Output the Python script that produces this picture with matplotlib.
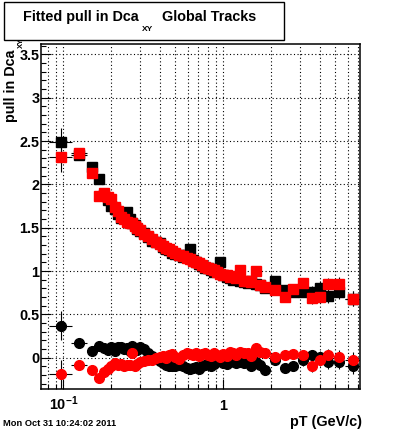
import matplotlib
matplotlib.use('Agg')
import matplotlib.pyplot as plt
from matplotlib.ticker import FixedLocator, FixedFormatter, NullFormatter
from matplotlib.patches import Rectangle

plt.rcParams['font.family'] = ['Liberation Sans', 'DejaVu Sans']
plt.rcParams['font.weight'] = 'bold'
plt.rcParams['mathtext.fontset'] = 'custom'
plt.rcParams['mathtext.rm'] = 'Liberation Sans:bold'
plt.rcParams['mathtext.bf'] = 'Liberation Sans:bold'
plt.rcParams['mathtext.it'] = 'Liberation Sans:bold'

# ---- data ----
pt = [0.097, 0.126, 0.152, 0.168, 0.18, 0.19, 0.20, 0.21, 0.22, 0.23,
      0.24, 0.25, 0.26, 0.27, 0.28, 0.29, 0.30, 0.32, 0.34, 0.36,
      0.38, 0.40, 0.42, 0.44, 0.46, 0.48, 0.50, 0.53, 0.56, 0.59,
      0.62, 0.65, 0.68, 0.71, 0.74, 0.77, 0.80, 0.84, 0.88, 0.92,
      0.96, 1.00, 1.05, 1.10, 1.15, 1.20, 1.27, 1.35, 1.43, 1.50,
      1.60, 1.70, 1.82, 2.10, 2.43, 2.74, 3.16, 3.57, 4.02, 4.53,
      5.29, 6.49]

pt_err = [0.016, 0.0145, 0.008, 0.006, 0.005, 0.005, 0.005, 0.005, 0.005, 0.005,
          0.005, 0.005, 0.005, 0.005, 0.005, 0.005, 0.01, 0.01, 0.01, 0.01,
          0.01, 0.01, 0.01, 0.01, 0.01, 0.01, 0.015, 0.015, 0.015, 0.015,
          0.015, 0.015, 0.015, 0.015, 0.015, 0.015, 0.02, 0.02, 0.02, 0.02,
          0.02, 0.025, 0.025, 0.025, 0.025, 0.03, 0.035, 0.04, 0.035, 0.04,
          0.05, 0.05, 0.06, 0.14, 0.15, 0.16, 0.2, 0.2, 0.22, 0.25,
          0.38, 0.7]

black_mean = [2.49, 2.34, 2.20, 2.06, 1.88, 1.82, 1.75, 1.72, 1.66, 1.61,
              1.62, 1.68, 1.60, 1.56, 1.53, 1.49, 1.46, 1.44, 1.39, 1.35,
              1.33, 1.32, 1.28, 1.25, 1.24, 1.21, 1.20, 1.18, 1.16, 1.19,
              1.25, 1.13, 1.10, 1.08, 1.06, 1.04, 1.03, 1.01, 0.99, 1.02,
              1.11, 0.95, 0.93, 0.92, 0.90, 0.91, 0.88, 0.87, 0.86, 0.88,
              0.85, 0.84, 0.80, 0.89, 0.78, 0.76, 0.76, 0.76, 0.81, 0.71,
              0.76, 0.68]

red_mean = [2.31, 2.36, 2.13, 1.87, 1.90, 1.85, 1.83, 1.74, 1.69, 1.62,
            1.60, 1.57, 1.56, 1.55, 1.52, 1.50, 1.47, 1.43, 1.40, 1.37,
            1.34, 1.31, 1.29, 1.27, 1.25, 1.23, 1.21, 1.19, 1.17, 1.15,
            1.14, 1.12, 1.10, 1.09, 1.07, 1.05, 1.04, 1.02, 1.01, 0.99,
            0.97, 0.96, 0.95, 0.93, 0.94, 0.92, 1.01, 0.89, 0.88, 0.87,
            1.00, 0.84, 0.82, 0.78, 0.70, 0.79, 0.86, 0.685, 0.70, 0.85,
            0.85, 0.68]

black_off = [0.37, 0.166, 0.08, 0.135, 0.11, 0.09, 0.12, 0.08, 0.13, 0.12,
             0.10, 0.11, 0.08, 0.14, 0.10, 0.09, 0.12, 0.10, 0.05, 0.02,
             0.00, -0.04, -0.06, -0.08, -0.09, -0.10, -0.09, -0.08, -0.10, -0.12,
             -0.13, -0.12, -0.11, -0.13, -0.10, -0.08, -0.06, -0.09, -0.07, -0.04,
             -0.03, -0.06, -0.07, -0.05, -0.04, -0.06, -0.05, -0.06, -0.05, -0.09,
             -0.05, -0.08, -0.14, -0.03, -0.12, -0.10, -0.03, 0.03, 0.01, -0.05,
             -0.05, -0.10]

red_off = [-0.19, -0.084, -0.14, -0.23, -0.16, -0.13, -0.10, -0.065, -0.08, -0.07,
           -0.09, -0.08, -0.08, 0.05, -0.09, -0.07, -0.05, -0.04, -0.03, -0.02,
           0.00, 0.01, 0.02, 0.00, 0.03, 0.04, 0.01, -0.01, 0.03, 0.06,
           0.04, 0.03, 0.05, 0.02, 0.04, 0.06, 0.03, 0.02, 0.05, 0.03,
           0.01, 0.04, 0.02, 0.07, 0.05, 0.03, 0.07, 0.05, 0.06, 0.02,
           0.11, 0.07, 0.05, 0.01, 0.03, 0.04, 0.03, -0.10, -0.02, 0.03,
           0.01, -0.02]

val_err = [0.165, 0.035, 0.03, 0.03, 0.025, 0.025, 0.02, 0.02, 0.02, 0.02,
           0.02, 0.02, 0.02, 0.02, 0.02, 0.02, 0.02, 0.02, 0.02, 0.02,
           0.02, 0.02, 0.02, 0.02, 0.02, 0.02, 0.02, 0.02, 0.02, 0.02,
           0.02, 0.02, 0.02, 0.02, 0.02, 0.02, 0.02, 0.02, 0.02, 0.02,
           0.02, 0.02, 0.02, 0.025, 0.025, 0.025, 0.03, 0.03, 0.03, 0.03,
           0.035, 0.035, 0.04, 0.045, 0.05, 0.055, 0.06, 0.065, 0.07, 0.075,
           0.08, 0.085]

y_ticks = [0, 0.5, 1, 1.5, 2, 2.5, 3, 3.5]
y_tick_labels = ['0', '0.5', '1', '1.5', '2', '2.5', '3', '3.5']
x_ticks = [0.1, 1]
x_tick_labels = [r'$10^{-1}$', '1']
x_minor = [0.08, 0.09, 0.2, 0.3, 0.4, 0.5, 0.6, 0.7, 0.8, 0.9, 2, 3, 4, 5, 6, 7]

# ---- figure ----
FS = 10.4
fig = plt.figure(figsize=(4, 4.33), dpi=100)
ax = fig.add_axes([0.1018, 0.1016, 0.798, 0.797])
ax.set_xscale('log')
ax.set_xlim(0.0723, 7.15)
ax.set_ylim(-0.36, 3.62)

common = dict(xerr=pt_err, yerr=val_err, ecolor='black', elinewidth=0.8,
              capsize=0, linestyle='none')
ax.errorbar(pt, black_mean, fmt='s', ms=7.0, mfc='black', mec='black', zorder=3, **common)
ax.errorbar(pt, red_mean, fmt='s', ms=7.0, mfc='red', mec='red', zorder=4, **common)
ax.errorbar(pt, black_off, fmt='o', ms=7.0, mfc='black', mec='black', zorder=3, **common)
ax.errorbar(pt, red_off, fmt='o', ms=7.0, mfc='red', mec='red', zorder=4, **common)

ax.xaxis.set_major_locator(FixedLocator(x_ticks))
ax.xaxis.set_major_formatter(FixedFormatter(x_tick_labels))
ax.xaxis.set_minor_locator(FixedLocator(x_minor))
ax.xaxis.set_minor_formatter(NullFormatter())
ax.yaxis.set_major_locator(FixedLocator(y_ticks))
ax.yaxis.set_major_formatter(FixedFormatter(y_tick_labels))
ax.yaxis.set_minor_locator(FixedLocator([v / 10 for v in range(-3, 37)]))

gstyle = dict(color='black', linestyle=(0, (1, 2.2)), linewidth=0.8)
ax.grid(True, which='both', axis='x', **gstyle)
ax.grid(True, which='major', axis='y', **gstyle)
ax.set_axisbelow(True)

ax.tick_params(which='both', direction='in', top=False, right=False, width=0.8)
ax.tick_params(which='major', length=7, labelsize=FS)
ax.tick_params(axis='y', which='major', pad=1)
ax.tick_params(axis='x', which='major', pad=15)
ax.tick_params(which='minor', length=3.5)
for lab in ax.get_xticklabels():
    lab.set_verticalalignment('baseline')
for s in ax.spines.values():
    s.set_linewidth(1.1)

# title box
fig.add_artist(Rectangle((4 / 400, 1 - 40 / 433), 280 / 400, 38 / 433,
                         transform=fig.transFigure, facecolor='white',
                         edgecolor='black', linewidth=1.0))
fig.text(23 / 400, 1 - 17 / 433, 'Fitted pull in Dca', ha='left', va='center',
         fontsize=FS, weight='bold')
fig.text(142 / 400, 1 - 29.5 / 433, 'XY', ha='left', va='center',
         fontsize=6.0, weight='bold')
fig.text(162 / 400, 1 - 17 / 433, 'Global Tracks', ha='left', va='center',
         fontsize=FS, weight='bold')

# y label
fig.text(11 / 400, 1 - 50 / 433, 'pull in Dca', rotation=90, ha='center',
         va='top', fontsize=FS, weight='bold')
fig.text(21.5 / 400, 1 - 47.5 / 433, 'XY', rotation=90, ha='center', va='bottom',
         fontsize=5.5, weight='bold')

# x label
fig.text(362 / 400, 1 - 422 / 433, 'pT (GeV/c)', ha='right', va='center',
         fontsize=FS, weight='bold')

# date stamp
fig.text(3 / 400, 1 - 424 / 433, 'Mon Oct 31 10:24:02 2011', ha='left',
         va='center', fontsize=6.7, weight='bold')

fig.savefig('out.png', dpi=100)
